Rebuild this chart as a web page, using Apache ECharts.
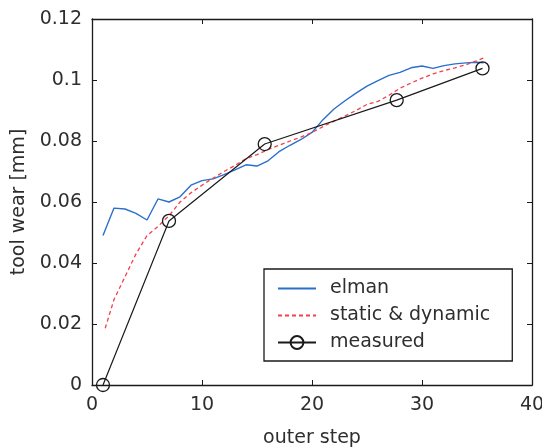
<!DOCTYPE html>
<html>
<head>
<meta charset="utf-8">
<script src="https://cdn.jsdelivr.net/npm/echarts@6/dist/echarts.min.js"></script>
<style>
  html, body { margin: 0; padding: 0; background: #fff; }
  #chart { width: 542px; height: 447px; }
</style>
</head>
<body>
<div id="chart"></div>
<script>
// Tool wear estimates versus outer step
const elmanSteps = [1, 2, 3, 4, 5, 6, 7, 8, 9, 10, 11, 12, 13, 14, 15, 16, 17, 18, 19, 20,
  21, 22, 23, 24, 25, 26, 27, 28, 29, 30, 31, 32, 33, 34, 35, 35.6];
const elmanWear = [0.049, 0.058, 0.0577, 0.0563, 0.0541, 0.061, 0.060, 0.0617, 0.0655, 0.067,
  0.0676, 0.069, 0.0705, 0.0722, 0.0718, 0.0735, 0.0765, 0.0786, 0.0805, 0.0828,
  0.087, 0.0905, 0.0932, 0.0957, 0.098, 0.0998, 0.1015, 0.1025, 0.104, 0.1046,
  0.1038, 0.1047, 0.1053, 0.1056, 0.1058, 0.1056];

const staticSteps = [1.2, 2, 3, 4, 5, 6, 7, 8, 9, 10, 11, 12, 13, 14, 15, 16, 17, 18, 19, 20,
  21, 22, 23, 24, 25, 26, 27, 28, 29, 30, 31, 32, 33, 34, 35, 35.6];
const staticWear = [0.0186, 0.028, 0.0355, 0.043, 0.049, 0.052, 0.0555, 0.060, 0.063, 0.0655,
  0.0678, 0.070, 0.072, 0.0742, 0.0755, 0.0772, 0.0786, 0.080, 0.0813, 0.0828,
  0.0847, 0.0865, 0.0882, 0.090, 0.092, 0.093, 0.095, 0.0973, 0.099, 0.1006,
  0.102, 0.1031, 0.104, 0.105, 0.1063, 0.1072];

const measuredSteps = [1, 7, 15.7, 27.7, 35.5];
const measuredWear = [0, 0.0538, 0.079, 0.0934, 0.1038];

const xTicks = [0, 10, 20, 30, 40];
const yTicks = [0, 0.02, 0.04, 0.06, 0.08, 0.1, 0.12];

const pairs = (xs, ys) => xs.map((x, i) => [x, ys[i]]);

const FONT = 'DejaVu Sans';
const TEXT = '#2e2e2e';
const AXIS = '#1a1a1a';

const chart = echarts.init(document.getElementById('chart'), null, { renderer: 'canvas' });

const baseAxis = {
  axisLine: { show: true, onZero: false, lineStyle: { color: AXIS, width: 1.3 } },
  axisTick: { show: true, inside: true, length: 5, lineStyle: { color: AXIS, width: 1 } },
  splitLine: { show: false }
};

// plain line samples for the two curves, no marker in their legend keys
const noMarker = { color: 'rgba(0,0,0,0)', borderWidth: 0 };

chart.setOption({
  animation: false,
  backgroundColor: '#ffffff',
  grid: { left: 92, right: 10, top: 19, bottom: 62, containLabel: false, outerBoundsMode: 'none' },
  xAxis: [
    Object.assign({}, baseAxis, {
      type: 'value', position: 'bottom',
      min: xTicks[0], max: xTicks[xTicks.length - 1], interval: 10,
      name: 'outer step', nameLocation: 'middle', nameGap: 44,
      nameTextStyle: { fontFamily: FONT, fontSize: 19, color: TEXT },
      axisLabel: { margin: 11, fontFamily: FONT, fontSize: 19, color: TEXT }
    }),
    Object.assign({}, baseAxis, {
      type: 'value', position: 'top',
      min: xTicks[0], max: xTicks[xTicks.length - 1], interval: 10,
      axisLabel: { show: false }
    })
  ],
  yAxis: [
    Object.assign({}, baseAxis, {
      type: 'value', position: 'left',
      min: yTicks[0], max: yTicks[yTicks.length - 1], interval: 0.02,
      name: 'tool wear [mm]', nameLocation: 'middle', nameGap: 60, nameRotate: 90,
      nameTextStyle: { fontFamily: FONT, fontSize: 19, color: TEXT },
      axisLabel: { margin: 10, fontFamily: FONT, fontSize: 19, color: TEXT,
        formatter: v => String(+v.toFixed(2)) }
    }),
    Object.assign({}, baseAxis, {
      type: 'value', position: 'right',
      min: yTicks[0], max: yTicks[yTicks.length - 1], interval: 0.02,
      axisLabel: { show: false }
    })
  ],
  legend: {
    orient: 'vertical',
    left: 264, top: 269,
    padding: [10, 22, 9, 13],
    itemGap: 8,
    itemWidth: 38, itemHeight: 16,
    backgroundColor: '#ffffff',
    borderColor: AXIS, borderWidth: 1.3, borderRadius: 0,
    textStyle: { fontFamily: FONT, fontSize: 19, color: TEXT, padding: [0, 0, 0, 9] },
    data: [
      { name: 'elman', itemStyle: noMarker },
      { name: 'static & dynamic', itemStyle: noMarker },
      { name: 'measured' }
    ]
  },
  series: [
    {
      name: 'elman', type: 'line',
      data: pairs(elmanSteps, elmanWear),
      showSymbol: false, symbol: 'none',
      lineStyle: { color: '#2a6fcc', width: 1.4 },
      itemStyle: { color: '#2a6fcc' },
      z: 2
    },
    {
      name: 'static & dynamic', type: 'line',
      data: pairs(staticSteps, staticWear),
      showSymbol: false, symbol: 'none',
      lineStyle: { color: '#f2404e', width: 1.3, type: [4, 3] },
      itemStyle: { color: '#f2404e' },
      z: 3
    },
    {
      name: 'measured', type: 'line',
      data: pairs(measuredSteps, measuredWear),
      symbol: 'circle', symbolSize: 13, showSymbol: true,
      lineStyle: { color: '#1a1a1a', width: 1.2 },
      itemStyle: { color: 'rgba(255,255,255,0)', borderColor: '#1a1a1a', borderWidth: 1.3 },
      z: 4
    }
  ]
});
</script>
</body>
</html>
